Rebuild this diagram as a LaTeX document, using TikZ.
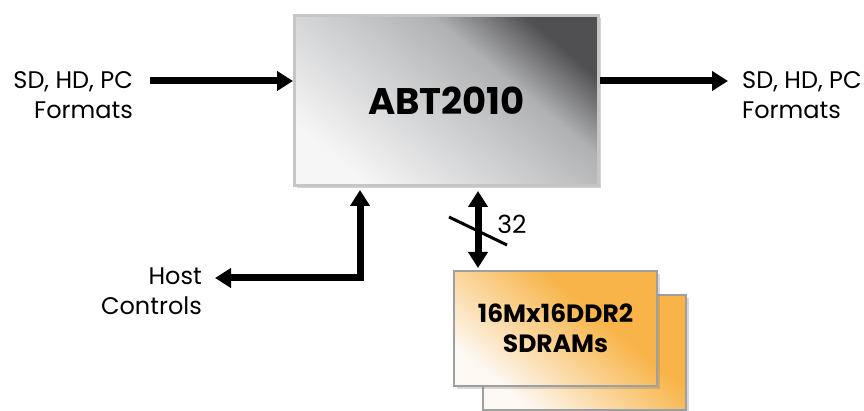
\documentclass[tikz,border=0pt]{standalone}
\usepackage{fontspec}
\setmainfont{Poppins}
\usetikzlibrary{arrows.meta,shadows,calc}

\definecolor{chipdark}{HTML}{505052}
\definecolor{chipmid}{HTML}{C8C9CB}
\definecolor{chiplight}{HTML}{F6F6F6}
\definecolor{ramorange}{HTML}{F8B448}
\definecolor{ramlight}{HTML}{FDF8F2}

% light over most of the face, dark only near the far corner
\pgfdeclareverticalshading{chipfade}{100bp}{color(0bp)=(chiplight); color(25bp)=(chiplight);
    color(50bp)=(chipmid); color(62bp)=(chipmid!80!chipdark); color(75bp)=(chipdark); color(100bp)=(chipdark)}
\pgfdeclareverticalshading{ramfade}{100bp}{color(0bp)=(ramlight); color(25bp)=(ramlight);
    color(45bp)=(ramorange!55!ramlight); color(62bp)=(ramorange); color(100bp)=(ramorange)}

\begin{document}
\begin{tikzpicture}[x=1pt, y=-1pt,
    chip/.style={rectangle, draw=gray!45, line width=3pt,
        minimum width=304pt, minimum height=170pt,
        shading=chipfade, shading angle=-40,
        drop shadow={shadow xshift=2pt, shadow yshift=-3pt, opacity=0.35},
        font=\bfseries\fontsize{37}{40}\selectfont},
    ram/.style={rectangle, draw=gray!75, line width=2pt,
        minimum width=203pt, minimum height=115pt,
        shading=ramfade, shading angle=-40,
        drop shadow={shadow xshift=3pt, shadow yshift=-3pt, opacity=0.3},
        font=\bfseries\fontsize{25}{30}\selectfont, align=center},
    label/.style={inner sep=0pt, font=\fontsize{24}{30}\selectfont},
    bus/.style={line width=7pt, line join=miter,
        -{Triangle[length=16pt,width=19pt]}},
    dbus/.style={line width=7pt,
        {Triangle[length=16pt,width=19pt]}-{Triangle[length=16pt,width=19pt]}},
    ]
    \useasboundingbox (0,0) rectangle (864,411);

    % main chip
    \node[chip] (abt) at (446.5,100.5) {ABT2010};

    % memory, two boards stacked
    \node[ram] (ram2) at (584.5,352.5) {};
    \node[ram] (ram1) at (555.5,328.5) {16Mx16DDR2\\SDRAMs};

    % text beside the arrows
    \node[label, anchor=east, align=right] (inlbl) at (133,95) {SD, HD, PC\\Formats};
    \node[label, anchor=west, align=left] (outlbl) at (742,95) {SD, HD, PC\\Formats};
    \node[label, anchor=east, align=right] (hostlbl) at (202,291) {Host\\Controls};
    \node[label, font=\fontsize{25}{30}\selectfont] (width) at (512,224) {32};

    % video in and out
    \coordinate (inpt) at (150,81);
    \coordinate (outpt) at (728,81);
    \draw[bus] (inpt) -- (inpt -| abt.west);
    \draw[bus] (abt.east |- outpt) -- (outpt);

    % host controls
    \coordinate (hostx) at (360,278);
    \coordinate (hostend) at (215,278);
    \draw[dbus, line join=miter] ([yshift=-3pt]abt.south -| hostx) |- (hostend);

    % memory bus, 32 wide
    \coordinate (busx) at (478,0);
    \draw[dbus] ([yshift=-4pt]abt.south -| busx) -- ([yshift=2pt]ram1.north -| busx);
    \coordinate (slash) at (478,231);
    \draw[line width=3pt] ([shift={(-29,-14)}]slash) -- ([shift={(29,14)}]slash);
\end{tikzpicture}
\end{document}
